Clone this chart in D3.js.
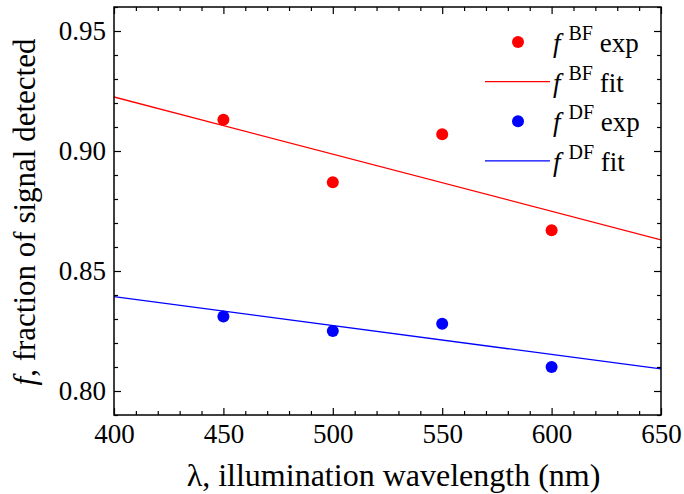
<!DOCTYPE html>
<html>
<head>
<meta charset="utf-8">
<script src="https://cdn.jsdelivr.net/npm/d3@7"></script>
</head>
<body style="margin:0">
<svg id="chart" width="684" height="494"></svg>
<script>
// Measured wavelengths (nm)
const wavelengths = [450, 500, 550, 600];
// Fraction of signal detected, bright field and dark field
const bfExp = [0.913, 0.887, 0.907, 0.867];
const dfExp = [0.831, 0.825, 0.828, 0.810];
// Linear fits evaluated at the ends of the wavelength range
const fitX = [400, 650];
const bfFit = [0.9225, 0.8630];
const dfFit = [0.8393, 0.8092];
// Axis ticks
const xTicks = [400, 450, 500, 550, 600, 650];
const yTicks = [0.80, 0.85, 0.90, 0.95];

const FONT = "'Liberation Serif'";

const svg = d3.select("#chart");
const m = { left: 114, right: 661, top: 7, bottom: 415 };

const x = d3.scaleLinear().domain([400, 650]).range([m.left, m.right]);
const y = d3.scaleLinear().domain([0.79, 0.96]).range([m.bottom, m.top]);

const red = "#ff0000", blue = "#0000ff";

function serif(sel, size) {
  return sel.style("font-family", FONT).style("font-size", size + "px");
}

// Fit lines (clipped to the frame)
svg.append("clipPath").attr("id", "clip").append("rect")
  .attr("x", m.left).attr("y", m.top)
  .attr("width", m.right - m.left).attr("height", m.bottom - m.top);

const line = d3.line().x(d => x(d[0])).y(d => y(d[1]));
const plot = svg.append("g").attr("clip-path", "url(#clip)");
plot.append("path").datum(fitX.map((v, i) => [v, bfFit[i]]))
  .attr("d", line).attr("fill", "none").attr("stroke", red).attr("stroke-width", 1.3);
plot.append("path").datum(fitX.map((v, i) => [v, dfFit[i]]))
  .attr("d", line).attr("fill", "none").attr("stroke", blue).attr("stroke-width", 1.3);

// Experimental points
plot.selectAll(".bf").data(wavelengths).enter().append("circle")
  .attr("cx", d => x(d)).attr("cy", (d, i) => y(bfExp[i])).attr("r", 6).attr("fill", red);
plot.selectAll(".df").data(wavelengths).enter().append("circle")
  .attr("cx", d => x(d)).attr("cy", (d, i) => y(dfExp[i])).attr("r", 6).attr("fill", blue);

// Axes: inward major and minor ticks on all four sides
const major = 7, minor = 4;
const xMinor = d3.range(400, 651, 10).filter(v => !xTicks.includes(v));
const yMinor = d3.range(0.79, 0.9601, 0.01).map(v => +v.toFixed(2)).filter(v => !yTicks.includes(v));

function axisGroup(axis, tx, ty) {
  const g = svg.append("g").attr("transform", `translate(${tx},${ty})`).call(axis);
  g.attr("font-family", null).attr("font-size", null);
  g.select(".domain").remove();
  g.selectAll("line").attr("stroke", "#000").attr("stroke-width", 1.2);
  serif(g.selectAll("text"), 27).attr("fill", "#000");
  return g;
}

// bottom
axisGroup(d3.axisBottom(x).tickValues(xMinor).tickSize(-minor).tickFormat(""), 0, m.bottom);
axisGroup(d3.axisBottom(x).tickValues(xTicks).tickSize(-major).tickPadding(9).tickFormat(d3.format("d")), 0, m.bottom);
// top
axisGroup(d3.axisTop(x).tickValues(xMinor).tickSize(-minor).tickFormat(""), 0, m.top);
axisGroup(d3.axisTop(x).tickValues(xTicks).tickSize(-major).tickFormat(""), 0, m.top);
// left
axisGroup(d3.axisLeft(y).tickValues(yMinor).tickSize(-minor).tickFormat(""), m.left, 0);
axisGroup(d3.axisLeft(y).tickValues(yTicks).tickSize(-major).tickPadding(8).tickFormat(d3.format(".2f")), m.left, 0);
// right
axisGroup(d3.axisRight(y).tickValues(yMinor).tickSize(-minor).tickFormat(""), m.right, 0);
axisGroup(d3.axisRight(y).tickValues(yTicks).tickSize(-major).tickFormat(""), m.right, 0);

// Frame
svg.append("rect").attr("x", m.left).attr("y", m.top)
  .attr("width", m.right - m.left).attr("height", m.bottom - m.top)
  .attr("fill", "none").attr("stroke", "#000").attr("stroke-width", 1.5);

// Axis titles
serif(svg.append("text"), 32).attr("x", (m.left + m.right) / 2 + 6).attr("y", 486)
  .attr("text-anchor", "middle")
  .text("λ, illumination wavelength (nm)");

const yt = serif(svg.append("text"), 31)
  .attr("transform", `translate(35,${(m.top + m.bottom) / 2 + 1}) rotate(-90)`)
  .attr("text-anchor", "middle");
yt.append("tspan").style("font-style", "italic").text("f");
yt.append("tspan").text(", fraction of signal detected");

// Legend
const legend = [
  { kind: "dot", color: red, sup: "BF", label: " exp" },
  { kind: "line", color: red, sup: "BF", label: " fit" },
  { kind: "dot", color: blue, sup: "DF", label: " exp" },
  { kind: "line", color: blue, sup: "DF", label: " fit" }
];
const lg = svg.append("g");
legend.forEach((d, i) => {
  const cy = 42 + i * 39.6;
  if (d.kind === "dot") {
    lg.append("circle").attr("cx", 518).attr("cy", cy).attr("r", 6).attr("fill", d.color);
  } else {
    lg.append("line").attr("x1", 485).attr("x2", 550).attr("y1", cy).attr("y2", cy)
      .attr("stroke", d.color).attr("stroke-width", 1.3);
  }
  const t = serif(lg.append("text"), 27).attr("x", 553).attr("y", cy + 10);
  t.append("tspan").style("font-style", "italic").text("f");
  t.append("tspan").style("font-size", "20px").attr("dy", -12).attr("dx", 8).text(d.sup);
  t.append("tspan").attr("dy", 12).text(d.label);
});
</script>
</body>
</html>
